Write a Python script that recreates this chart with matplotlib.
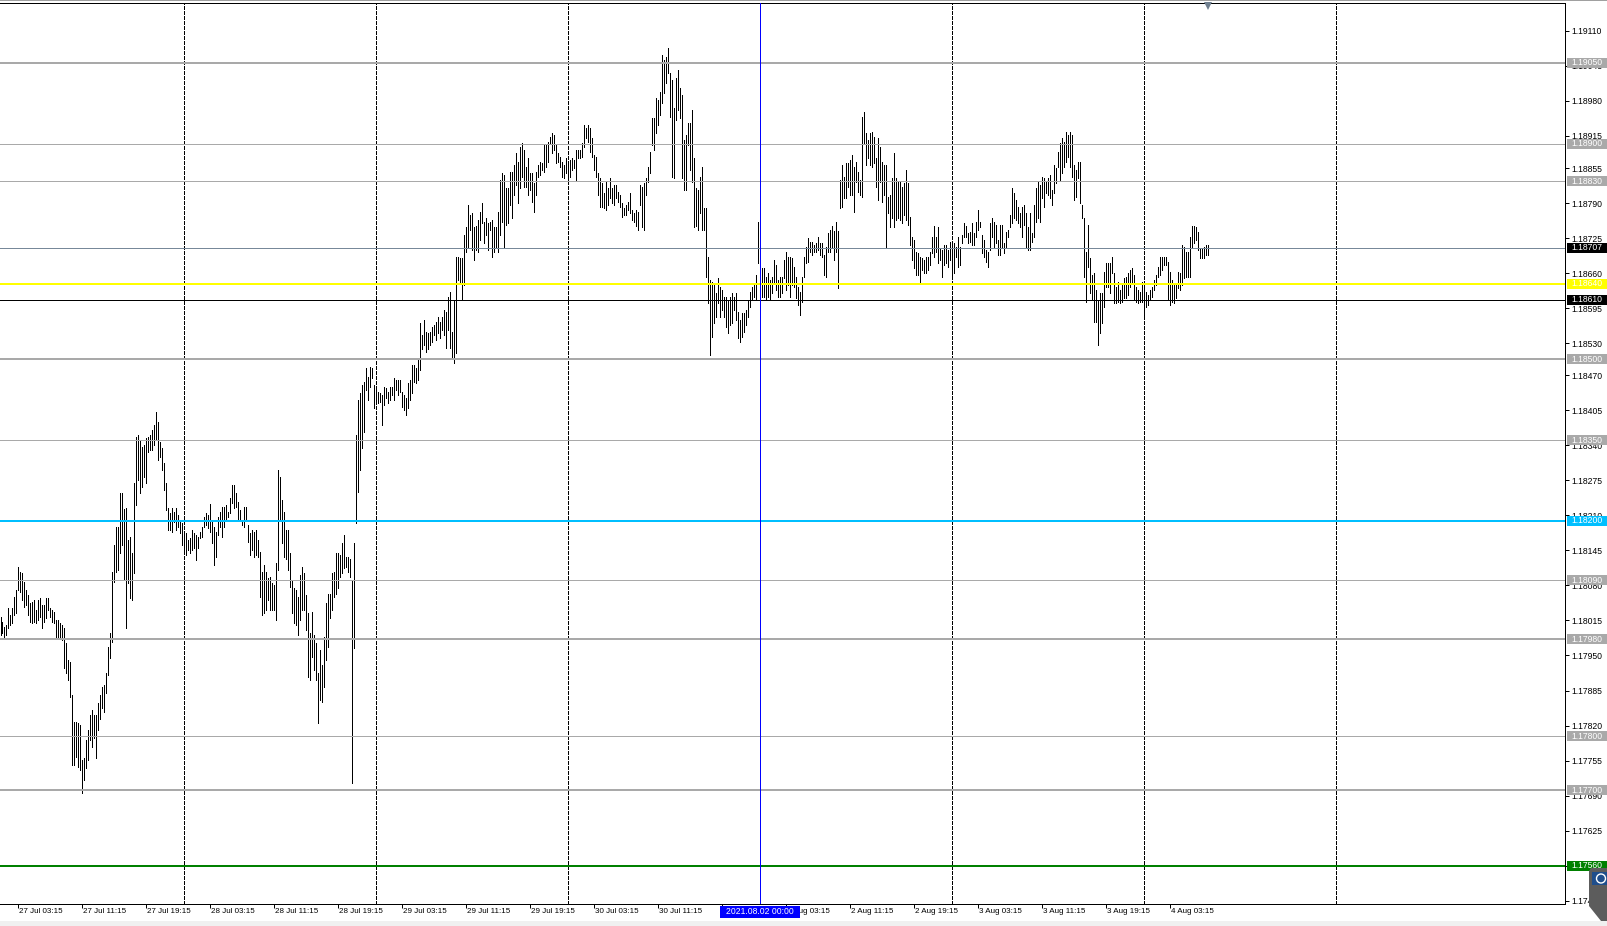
import numpy as np
import pandas as pd
import matplotlib
matplotlib.use("Agg")
import matplotlib.pyplot as plt
from matplotlib.patches import Rectangle, Polygon, Circle
from matplotlib.transforms import blended_transform_factory, IdentityTransform

plt.rcParams["font.family"] = ["Liberation Sans", "DejaVu Sans"]

# EURUSD M15 - high / low of every bar
high = [
    1.18021, 1.18012, 1.18003, 1.18007, 1.18038, 1.18025, 1.18038, 1.18058, 1.18071, 1.18114,
    1.18105, 1.18103, 1.18086, 1.18071, 1.18062, 1.18047, 1.18049, 1.18053, 1.18034, 1.18053,
    1.18056, 1.18044, 1.18044, 1.18056, 1.18056, 1.18038, 1.18034, 1.18030, 1.18016, 1.18016,
    1.18010, 1.18007, 1.18001, 1.17973, 1.17942, 1.17938, 1.17877, 1.17826, 1.17826, 1.17824,
    1.17821, 1.17756, 1.17759, 1.17793, 1.17812, 1.17839, 1.17849, 1.17839, 1.17839, 1.17861,
    1.17877, 1.17891, 1.17895, 1.17917, 1.17965, 1.17991, 1.18105, 1.18155, 1.18188, 1.18188,
    1.18251, 1.18251, 1.18222, 1.18223, 1.18164, 1.18170, 1.18140, 1.18270, 1.18355, 1.18359,
    1.18350, 1.18337, 1.18341, 1.18353, 1.18355, 1.18359, 1.18369, 1.18378, 1.18402, 1.18383,
    1.18346, 1.18335, 1.18307, 1.18270, 1.18223, 1.18214, 1.18223, 1.18216, 1.18223, 1.18211,
    1.18198, 1.18196, 1.18177, 1.18177, 1.18164, 1.18168, 1.18183, 1.18177, 1.18174, 1.18170,
    1.18179, 1.18188, 1.18207, 1.18214, 1.18211, 1.18232, 1.18202, 1.18188, 1.18179, 1.18207,
    1.18216, 1.18225, 1.18225, 1.18229, 1.18216, 1.18242, 1.18267, 1.18267, 1.18251, 1.18235,
    1.18220, 1.18202, 1.18225, 1.18225, 1.18192, 1.18177, 1.18183, 1.18179, 1.18183, 1.18164,
    1.18142, 1.18105, 1.18118, 1.18105, 1.18093, 1.18095, 1.18084, 1.18081, 1.18121, 1.18294,
    1.18281, 1.18239, 1.18216, 1.18183, 1.18183, 1.18140, 1.18090, 1.18075, 1.18071, 1.18058,
    1.18099, 1.18114, 1.18103, 1.18062, 1.18028, 1.17991, 1.18030, 1.17988, 1.17973, 1.17917,
    1.17960, 1.17932, 1.17984, 1.18047, 1.18065, 1.18065, 1.18103, 1.18105, 1.18140, 1.18140,
    1.18136, 1.18158, 1.18174, 1.18132, 1.18132, 1.18130, 1.18090, 1.18158, 1.18359, 1.18424,
    1.18437, 1.18452, 1.18458, 1.18484, 1.18467, 1.18486, 1.18484, 1.18452, 1.18446, 1.18439,
    1.18437, 1.18434, 1.18448, 1.18446, 1.18439, 1.18448, 1.18448, 1.18465, 1.18462, 1.18462,
    1.18462, 1.18439, 1.18434, 1.18428, 1.18456, 1.18462, 1.18489, 1.18489, 1.18484, 1.18499,
    1.18567, 1.18545, 1.18573, 1.18550, 1.18549, 1.18550, 1.18560, 1.18564, 1.18569, 1.18578,
    1.18569, 1.18578, 1.18592, 1.18588, 1.18615, 1.18625, 1.18550, 1.18610, 1.18690, 1.18690,
    1.18688, 1.18688, 1.18731, 1.18745, 1.18786, 1.18768, 1.18772, 1.18745, 1.18747, 1.18759,
    1.18773, 1.18790, 1.18755, 1.18762, 1.18753, 1.18755, 1.18759, 1.18745, 1.18745, 1.18773,
    1.18833, 1.18846, 1.18842, 1.18818, 1.18818, 1.18848, 1.18848, 1.18861, 1.18883, 1.18866,
    1.18894, 1.18901, 1.18889, 1.18857, 1.18874, 1.18846, 1.18846, 1.18827, 1.18848, 1.18861,
    1.18866, 1.18864, 1.18898, 1.18898, 1.18903, 1.18913, 1.18920, 1.18916, 1.18898, 1.18883,
    1.18875, 1.18866, 1.18861, 1.18874, 1.18864, 1.18870, 1.18874, 1.18870, 1.18889, 1.18889,
    1.18889, 1.18901, 1.18935, 1.18929, 1.18935, 1.18929, 1.18911, 1.18879, 1.18875, 1.18846,
    1.18836, 1.18827, 1.18809, 1.18829, 1.18818, 1.18836, 1.18818, 1.18824, 1.18824, 1.18810,
    1.18805, 1.18790, 1.18781, 1.18786, 1.18792, 1.18809, 1.18777, 1.18772, 1.18777, 1.18773,
    1.18824, 1.18820, 1.18827, 1.18836, 1.18857, 1.18885, 1.18948, 1.18948, 1.18985, 1.18981,
    1.18996, 1.19065, 1.19056, 1.19061, 1.19078, 1.19031, 1.19018, 1.18966, 1.19022, 1.19037,
    1.19004, 1.18991, 1.18907, 1.18916, 1.18939, 1.18939, 1.18963, 1.18874, 1.18818, 1.18814,
    1.18838, 1.18857, 1.18781, 1.18781, 1.18690, 1.18647, 1.18643, 1.18642, 1.18623, 1.18651,
    1.18634, 1.18629, 1.18615, 1.18615, 1.18610, 1.18615, 1.18623, 1.18615, 1.18623, 1.18588,
    1.18573, 1.18586, 1.18586, 1.18592, 1.18610, 1.18625, 1.18634, 1.18642, 1.18656, 1.18755,
    1.18708, 1.18669, 1.18669, 1.18653, 1.18660, 1.18647, 1.18653, 1.18684, 1.18675, 1.18647,
    1.18653, 1.18653, 1.18684, 1.18699, 1.18690, 1.18690, 1.18688, 1.18671, 1.18653, 1.18634,
    1.18625, 1.18653, 1.18690, 1.18708, 1.18725, 1.18718, 1.18718, 1.18712, 1.18716, 1.18727,
    1.18716, 1.18716, 1.18694, 1.18708, 1.18734, 1.18740, 1.18747, 1.18738, 1.18755, 1.18738,
    1.18833, 1.18861, 1.18838, 1.18864, 1.18864, 1.18870, 1.18879, 1.18857, 1.18866, 1.18848,
    1.18833, 1.18950, 1.18959, 1.18920, 1.18907, 1.18920, 1.18922, 1.18913, 1.18874, 1.18911,
    1.18894, 1.18866, 1.18861, 1.18861, 1.18801, 1.18805, 1.18836, 1.18883, 1.18836, 1.18829,
    1.18829, 1.18820, 1.18827, 1.18851, 1.18827, 1.18764, 1.18727, 1.18721, 1.18699, 1.18697,
    1.18690, 1.18688, 1.18684, 1.18690, 1.18690, 1.18699, 1.18727, 1.18747, 1.18727, 1.18745,
    1.18706, 1.18703, 1.18712, 1.18712, 1.18703, 1.18718, 1.18712, 1.18716, 1.18708, 1.18727,
    1.18708, 1.18731, 1.18753, 1.18747, 1.18734, 1.18736, 1.18753, 1.18734, 1.18755, 1.18777,
    1.18755, 1.18731, 1.18721, 1.18703, 1.18699, 1.18753, 1.18762, 1.18755, 1.18749, 1.18721,
    1.18749, 1.18749, 1.18716, 1.18736, 1.18740, 1.18768, 1.18818, 1.18809, 1.18796, 1.18783,
    1.18772, 1.18783, 1.18786, 1.18772, 1.18745, 1.18772, 1.18734, 1.18786, 1.18818, 1.18829,
    1.18824, 1.18838, 1.18836, 1.18829, 1.18836, 1.18842, 1.18814, 1.18861, 1.18855, 1.18885,
    1.18901, 1.18911, 1.18903, 1.18922, 1.18916, 1.18922, 1.18916, 1.18861, 1.18851, 1.18866,
    1.18866, 1.18786, 1.18762, 1.18699, 1.18749, 1.18688, 1.18656, 1.18660, 1.18629, 1.18610,
    1.18623, 1.18623, 1.18662, 1.18679, 1.18679, 1.18679, 1.18690, 1.18660, 1.18634, 1.18643,
    1.18629, 1.18642, 1.18651, 1.18653, 1.18660, 1.18666, 1.18669, 1.18656, 1.18634, 1.18629,
    1.18625, 1.18643, 1.18638, 1.18625, 1.18619, 1.18629, 1.18634, 1.18647, 1.18656, 1.18671,
    1.18690, 1.18690, 1.18690, 1.18690, 1.18681, 1.18662, 1.18647, 1.18642, 1.18638, 1.18662,
    1.18660, 1.18712, 1.18708, 1.18699, 1.18699, 1.18727, 1.18747, 1.18747, 1.18745, 1.18736,
    1.18706, 1.18706, 1.18708, 1.18712, 1.18712,
]
low = [
    1.17988, 1.17991, 1.17982, 1.17988, 1.18001, 1.18007, 1.18010, 1.18025, 1.18028, 1.18071,
    1.18067, 1.18053, 1.18040, 1.18044, 1.18025, 1.18012, 1.18010, 1.18012, 1.18010, 1.18016,
    1.18021, 1.18001, 1.18012, 1.18019, 1.18034, 1.18021, 1.18012, 1.18010, 1.17984, 1.17984,
    1.17982, 1.17979, 1.17926, 1.17917, 1.17904, 1.17873, 1.17747, 1.17747, 1.17761, 1.17743,
    1.17737, 1.17694, 1.17719, 1.17741, 1.17756, 1.17793, 1.17780, 1.17796, 1.17759, 1.17812,
    1.17833, 1.17852, 1.17845, 1.17880, 1.17914, 1.17945, 1.17975, 1.18086, 1.18105, 1.18109,
    1.18140, 1.18155, 1.18090, 1.18001, 1.18084, 1.18056, 1.18053, 1.18103, 1.18229, 1.18276,
    1.18251, 1.18263, 1.18281, 1.18270, 1.18328, 1.18332, 1.18332, 1.18341, 1.18350, 1.18313,
    1.18318, 1.18294, 1.18257, 1.18220, 1.18183, 1.18183, 1.18179, 1.18198, 1.18183, 1.18188,
    1.18177, 1.18155, 1.18142, 1.18136, 1.18146, 1.18140, 1.18146, 1.18149, 1.18127, 1.18149,
    1.18168, 1.18170, 1.18188, 1.18192, 1.18186, 1.18179, 1.18158, 1.18118, 1.18132, 1.18174,
    1.18188, 1.18170, 1.18188, 1.18202, 1.18207, 1.18214, 1.18233, 1.18223, 1.18225, 1.18202,
    1.18202, 1.18192, 1.18188, 1.18202, 1.18160, 1.18136, 1.18146, 1.18132, 1.18136, 1.18132,
    1.18058, 1.18025, 1.18028, 1.18034, 1.18053, 1.18034, 1.18034, 1.18034, 1.18016, 1.18109,
    1.18202, 1.18158, 1.18132, 1.18130, 1.18109, 1.18077, 1.18028, 1.18010, 1.18007, 1.17988,
    1.18016, 1.18034, 1.18034, 1.17997, 1.17910, 1.17904, 1.17947, 1.17923, 1.17904, 1.17824,
    1.17867, 1.17863, 1.17891, 1.17942, 1.17965, 1.18019, 1.18034, 1.18058, 1.18065, 1.18075,
    1.18095, 1.18103, 1.18112, 1.18114, 1.18105, 1.18095, 1.17713, 1.17964, 1.18196, 1.18253,
    1.18294, 1.18335, 1.18365, 1.18443, 1.18424, 1.18448, 1.18465, 1.18410, 1.18419, 1.18419,
    1.18421, 1.18378, 1.18415, 1.18428, 1.18419, 1.18424, 1.18434, 1.18424, 1.18443, 1.18434,
    1.18439, 1.18411, 1.18406, 1.18397, 1.18410, 1.18424, 1.18437, 1.18458, 1.18456, 1.18462,
    1.18480, 1.18519, 1.18527, 1.18513, 1.18519, 1.18527, 1.18532, 1.18545, 1.18536, 1.18549,
    1.18540, 1.18554, 1.18545, 1.18521, 1.18554, 1.18521, 1.18502, 1.18493, 1.18512, 1.18647,
    1.18643, 1.18610, 1.18638, 1.18699, 1.18708, 1.18740, 1.18703, 1.18684, 1.18703, 1.18699,
    1.18721, 1.18753, 1.18716, 1.18731, 1.18703, 1.18740, 1.18690, 1.18699, 1.18706, 1.18699,
    1.18731, 1.18755, 1.18706, 1.18749, 1.18753, 1.18786, 1.18762, 1.18805, 1.18824, 1.18790,
    1.18818, 1.18838, 1.18820, 1.18820, 1.18805, 1.18814, 1.18792, 1.18773, 1.18805, 1.18838,
    1.18842, 1.18851, 1.18848, 1.18857, 1.18866, 1.18901, 1.18883, 1.18889, 1.18864, 1.18866,
    1.18857, 1.18838, 1.18836, 1.18846, 1.18829, 1.18838, 1.18851, 1.18855, 1.18833, 1.18874,
    1.18874, 1.18875, 1.18894, 1.18911, 1.18903, 1.18885, 1.18875, 1.18851, 1.18838, 1.18805,
    1.18783, 1.18783, 1.18781, 1.18777, 1.18786, 1.18799, 1.18790, 1.18786, 1.18799, 1.18792,
    1.18783, 1.18764, 1.18768, 1.18768, 1.18777, 1.18772, 1.18759, 1.18755, 1.18747, 1.18740,
    1.18786, 1.18745, 1.18740, 1.18805, 1.18829, 1.18846, 1.18898, 1.18889, 1.18920, 1.18935,
    1.18954, 1.18976, 1.18994, 1.19013, 1.19031, 1.18950, 1.18838, 1.18836, 1.18944, 1.18963,
    1.18948, 1.18836, 1.18814, 1.18814, 1.18898, 1.18851, 1.18829, 1.18745, 1.18747, 1.18740,
    1.18772, 1.18740, 1.18740, 1.18653, 1.18604, 1.18508, 1.18541, 1.18567, 1.18578, 1.18604,
    1.18578, 1.18592, 1.18578, 1.18560, 1.18549, 1.18564, 1.18567, 1.18592, 1.18573, 1.18540,
    1.18532, 1.18541, 1.18551, 1.18564, 1.18578, 1.18597, 1.18610, 1.18615, 1.18610, 1.18679,
    1.18610, 1.18615, 1.18615, 1.18610, 1.18615, 1.18610, 1.18623, 1.18642, 1.18629, 1.18615,
    1.18615, 1.18623, 1.18651, 1.18629, 1.18638, 1.18615, 1.18638, 1.18634, 1.18614, 1.18601,
    1.18582, 1.18606, 1.18653, 1.18679, 1.18681, 1.18699, 1.18694, 1.18699, 1.18699, 1.18703,
    1.18694, 1.18690, 1.18656, 1.18653, 1.18699, 1.18699, 1.18706, 1.18684, 1.18699, 1.18632,
    1.18781, 1.18783, 1.18799, 1.18799, 1.18820, 1.18805, 1.18805, 1.18773, 1.18829, 1.18810,
    1.18805, 1.18801, 1.18901, 1.18861, 1.18874, 1.18861, 1.18857, 1.18864, 1.18820, 1.18796,
    1.18829, 1.18792, 1.18805, 1.18706, 1.18772, 1.18745, 1.18762, 1.18745, 1.18759, 1.18762,
    1.18759, 1.18753, 1.18768, 1.18759, 1.18749, 1.18712, 1.18684, 1.18669, 1.18656, 1.18656,
    1.18642, 1.18666, 1.18660, 1.18660, 1.18666, 1.18675, 1.18697, 1.18690, 1.18699, 1.18679,
    1.18684, 1.18653, 1.18675, 1.18679, 1.18671, 1.18684, 1.18653, 1.18660, 1.18690, 1.18671,
    1.18675, 1.18716, 1.18727, 1.18727, 1.18716, 1.18718, 1.18712, 1.18712, 1.18727, 1.18740,
    1.18745, 1.18697, 1.18690, 1.18681, 1.18671, 1.18703, 1.18727, 1.18708, 1.18716, 1.18694,
    1.18694, 1.18706, 1.18697, 1.18708, 1.18727, 1.18745, 1.18753, 1.18762, 1.18759, 1.18753,
    1.18745, 1.18727, 1.18749, 1.18708, 1.18703, 1.18703, 1.18718, 1.18727, 1.18755, 1.18762,
    1.18755, 1.18799, 1.18783, 1.18809, 1.18805, 1.18799, 1.18786, 1.18809, 1.18827, 1.18857,
    1.18833, 1.18846, 1.18857, 1.18866, 1.18875, 1.18857, 1.18838, 1.18796, 1.18801, 1.18836,
    1.18790, 1.18762, 1.18653, 1.18606, 1.18671, 1.18623, 1.18610, 1.18569, 1.18569, 1.18527,
    1.18549, 1.18567, 1.18597, 1.18634, 1.18634, 1.18623, 1.18660, 1.18604, 1.18604, 1.18606,
    1.18604, 1.18606, 1.18614, 1.18614, 1.18619, 1.18634, 1.18642, 1.18610, 1.18606, 1.18604,
    1.18606, 1.18606, 1.18577, 1.18597, 1.18601, 1.18610, 1.18615, 1.18629, 1.18638, 1.18653,
    1.18656, 1.18666, 1.18675, 1.18675, 1.18610, 1.18601, 1.18606, 1.18604, 1.18614, 1.18632,
    1.18629, 1.18638, 1.18651, 1.18653, 1.18653, 1.18653, 1.18708, 1.18716, 1.18721, 1.18703,
    1.18688, 1.18688, 1.18688, 1.18694, 1.18694,
]

# bar times: Fri 30 Jul closes, next bar is Mon 2 Aug 00:00
part1 = pd.date_range("2021-07-27 01:00", "2021-07-30 23:45", freq="15min")
part2 = pd.date_range("2021-08-02 00:00", periods=len(high) - len(part1), freq="15min")
times = list(part1) + list(part2)

# horizontal levels drawn on the chart
levels = [1.19050, 1.18900, 1.18830, 1.18707, 1.18640, 1.18610, 1.18500,
          1.18350, 1.18200, 1.18090, 1.17980, 1.17800, 1.17700, 1.17560]
line_colors = ["#a9a9a9", "#a9a9a9", "#a9a9a9", "#778899", "#ffff00", "#000000", "#a9a9a9",
               "#a9a9a9", "#00bfff", "#a9a9a9", "#a9a9a9", "#a9a9a9", "#a9a9a9", "#008000"]
box_colors = ["#a9a9a9", "#a9a9a9", "#a9a9a9", "#000000", "#ffff00", "#000000", "#a9a9a9",
              "#a9a9a9", "#00bfff", "#a9a9a9", "#a9a9a9", "#a9a9a9", "#a9a9a9", "#008000"]
line_px = [2, 1, 1, 1, 2, 1, 2, 1, 2, 1, 2, 1, 2, 2]

# price scale labels
y_ticks = [1.19110, 1.19045, 1.18980, 1.18915, 1.18855, 1.18790, 1.18725, 1.18660, 1.18595,
           1.18530, 1.18470, 1.18405, 1.18340, 1.18275, 1.18210, 1.18145, 1.18080, 1.18015,
           1.17950, 1.17885, 1.17820, 1.17755, 1.17690, 1.17625, 1.17560, 1.17495]

W, H = 1608, 926
PX = 72.0 / 100  # one pixel in points

fig = plt.figure(figsize=(W / 100, H / 100), dpi=100)
ax = fig.add_axes([0, 22.3 / H, 1565 / W, 900.4 / H])
ax.set_xlim(-0.25, 782.25)
ax.set_ylim(1.174892, 1.191608)

idx = np.arange(len(high))

# day separators (dotted) and the selected period line (blue)
day_bars = [i for i, t in enumerate(times) if t.hour == 0 and t.minute == 0]
day_bars.append(day_bars[-1] + 96)
sel_bar = times.index(pd.Timestamp("2021-08-02 00:00"))
for b in day_bars:
    if b == sel_bar:
        continue
    ax.axvline(b, color="black", lw=PX, linestyle=(0, (3, 2)), antialiased=False, zorder=1)
ax.axvline(sel_bar, color="#0000ff", lw=PX, antialiased=False, zorder=4)

# bars (1 px high-low lines)
ax.vlines(idx, low, high, colors="black", linewidth=0.9 * PX, antialiased=False, zorder=2)

# levels
for v, c, w in zip(levels, line_colors, line_px):
    ax.axhline(v, color=c, lw=w * PX, antialiased=False, zorder=3)

# spines
for s in ["top", "right", "bottom"]:
    ax.spines[s].set_linewidth(PX)
    ax.spines[s].set_color("black")
ax.spines["left"].set_visible(False)

# price axis
ax.yaxis.tick_right()
ax.set_yticks(y_ticks)
ax.set_yticklabels([f"{v:.5f}" for v in y_ticks])
ax.tick_params(axis="y", direction="out", length=2.8, width=PX, pad=1.6, labelsize=6.2)

# time axis
lab_bars = [i for i, t in enumerate(times) if t.minute == 15 and t.hour in (3, 11, 19)]
lab_text = [f"{times[i].day} {times[i]:%b %H:%M}" for i in lab_bars]
lab_bars = [lab_bars[0] - 32] + lab_bars
lab_text = ["26 Jul 19:15"] + lab_text
ax.set_xticks([b for b in lab_bars if b >= 0])
ax.tick_params(axis="x", direction="out", length=2.8, width=PX, labelbottom=False)
tx = blended_transform_factory(ax.transData, ax.transAxes)
for b, s in zip(lab_bars, lab_text):
    # the label right before the selected time sits under its highlight box
    if sel_bar - 40 < b < sel_bar:
        continue
    ax.text(b + 0.4, -0.0089, s, transform=tx, ha="left", va="center",
            fontsize=5.8, clip_on=False, zorder=5)

# selected time highlight
ax.add_patch(Rectangle((359.65, -0.0157), 39.95, 0.0137, transform=tx, facecolor="#0000ff",
                       edgecolor="none", clip_on=False, zorder=10))
ax.text(sel_bar - 0.2, -0.0089, times[sel_bar].strftime("%Y.%m.%d %H:%M"), transform=tx,
        ha="center", va="center", color="white", fontsize=6.2, clip_on=False, zorder=11)

# price boxes on the right scale
ty = blended_transform_factory(ax.transAxes, ax.transData)
half = 5.0 / 53864
for v, c in zip(levels, box_colors):
    ax.add_patch(Rectangle((1.001, v - half), 0.0266, 2 * half, transform=ty, facecolor=c,
                           edgecolor="none", clip_on=False, zorder=20))
    ax.text(1.0042, v, f"{v:.5f}", transform=ty, ha="left", va="center", color="white",
            fontsize=6.2, clip_on=False, zorder=21)

# chart shift marker at the top
ax.plot([idx[-1]], [1.191608 - 2.4 / 53864], marker="v", markersize=5.5, color="#708090",
        markeredgewidth=0, clip_on=False, zorder=6)

# window details
ident = IdentityTransform()
fig.patches.append(Rectangle((0, 0), W, 5, transform=ident, facecolor="#f0f0f0",
                             edgecolor="none", zorder=1))
fig.patches.append(Rectangle((0, H - 1), W, 1, transform=ident, facecolor="#a0a0a0",
                             edgecolor="none", zorder=1))
icon = [(1591, H - 868), (1608, H - 868), (1608, H - 921), (1601, H - 921),
        (1589, H - 906), (1589, H - 871)]
fig.patches.append(Polygon(icon, closed=True, transform=ident, facecolor="#5c5c5c",
                           edgecolor="none", zorder=2))
fig.patches.append(Rectangle((1592, H - 885), 16, 13, transform=ident, facecolor="#1f4e8c",
                             edgecolor="none", zorder=3))
fig.patches.append(Circle((1601, H - 878.5), 4.5, transform=ident, facecolor="none",
                          edgecolor="white", linewidth=1.0, zorder=4))

fig.savefig("out.png", dpi=100, facecolor="white")
